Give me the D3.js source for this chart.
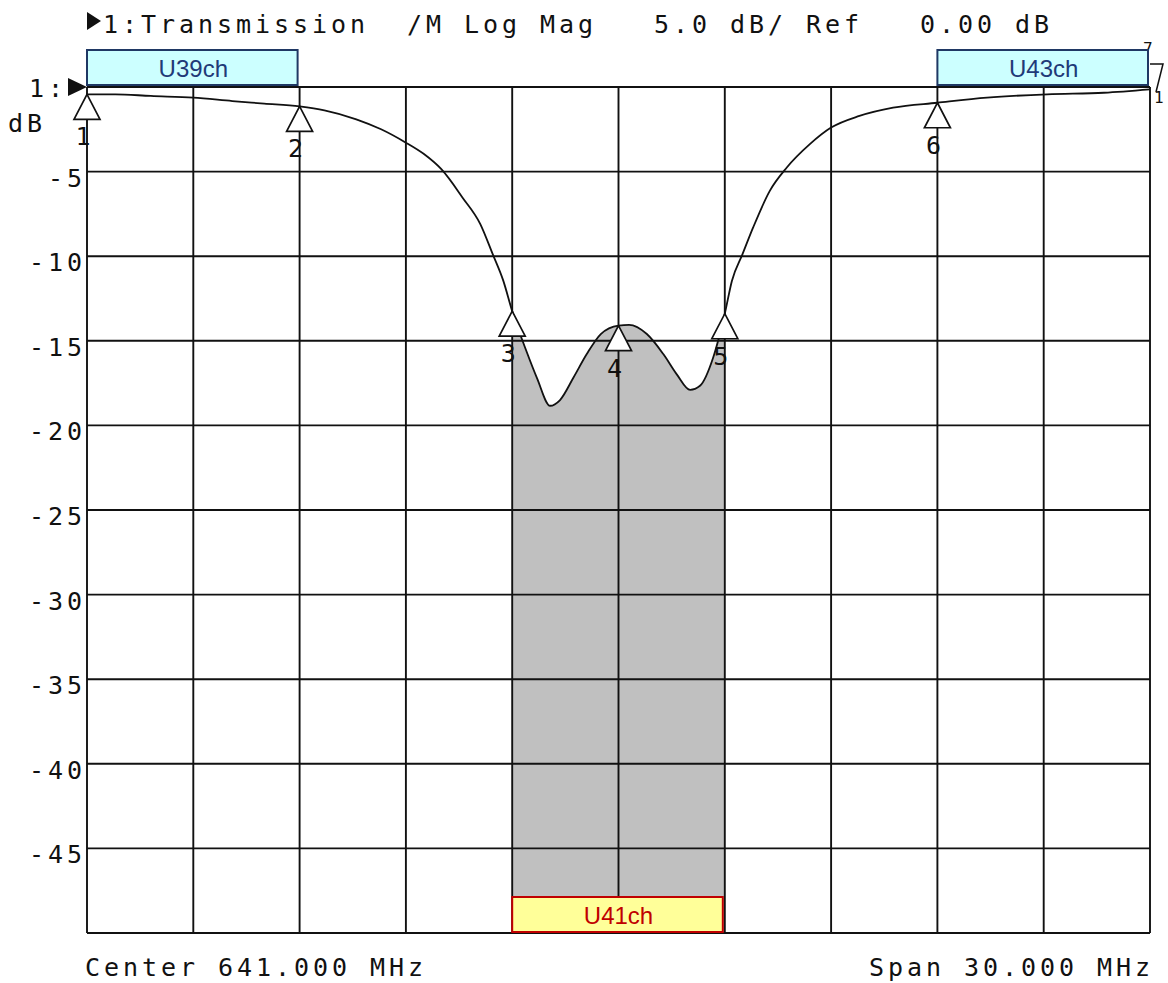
<!DOCTYPE html>
<html>
<head>
<meta charset="utf-8">
<script src="https://cdn.jsdelivr.net/npm/d3@7"></script>
<style>
  body { margin: 0; background: #fff; }
  svg { display: block; }
  .mono { font-family: "DejaVu Sans Mono", monospace; font-size: 25px; letter-spacing: 3.95px; fill: #111; white-space: pre; }
</style>
</head>
<body>
<div id="chart"></div>
<script>
// trace (MHz, dB)
var freqs = [626, 626.8, 627.8, 629, 630.1, 631, 632, 632.7, 633.6, 634.3, 635, 635.5, 636, 636.6, 637.1,
  637.45, 637.75, 638, 638.4, 638.7, 639.07, 639.35, 639.73, 640.1, 640.5, 641, 641.3, 641.8, 642.27,
  642.65, 643.02, 643.3, 643.67, 644, 644.2, 644.5, 644.8, 645.27, 645.75, 646.4, 647, 647.8, 648.75,
  650, 651.4, 653.1, 654.7, 656]
var gains = [-0.43, -0.43, -0.53, -0.63, -0.83, -0.98, -1.15, -1.38, -1.91, -2.5, -3.29, -3.95, -4.86, -6.54, -8.1,
  -9.88, -11.46, -13.25, -15.6, -17.2, -18.84, -18.5, -17.17, -15.8, -14.6, -14.1, -14.06, -14.6, -15.8,
  -17.0, -17.9, -17.66, -16.0, -13.4, -11.46, -9.88, -8.3, -6.14, -4.76, -3.38, -2.4, -1.71, -1.22,
  -0.93, -0.63, -0.43, -0.34, -0.14]

var markerFreqs = [626, 632, 638, 641, 644, 650]
var markerLabels = ["1", "2", "3", "4", "5", "6"]

var yTicks = [0, -5, -10, -15, -20, -25, -30, -35, -40, -45, -50]
var yTickLabels = ["", "-5", "-10", "-15", "-20", "-25", "-30", "-35", "-40", "-45", ""]
var xTicks = [626, 629, 632, 635, 638, 641, 644, 647, 650, 653, 656]

var channels = ["U39ch", "U41ch", "U43ch"]
var chStart = [626, 638, 650]
var chEnd = [632, 644, 656]

var titleText = "1:Transmission  /M Log Mag   5.0 dB/ Ref   0.00 dB"
var centerText = "Center 641.000 MHz"
var spanText = "Span 30.000 MHz"

var W = 1168, H = 983
var svg = d3.select("#chart").append("svg").attr("width", W).attr("height", H)

var x = d3.scaleLinear().domain([626, 656]).range([87, 1150])
var y = d3.scaleLinear().domain([0, -50]).range([87, 933])

var trace = freqs.map((f, i) => ({f: f, g: gains[i]}))

function gainAt(f) {
  var i = d3.bisector(d => d.f).left(trace, f)
  if (i <= 0) return trace[0].g
  if (i >= trace.length) return trace[trace.length - 1].g
  var a = trace[i - 1], b = trace[i]
  return a.g + (b.g - a.g) * (f - a.f) / (b.f - a.f)
}

// shaded pass band (U41ch)
var band = trace.filter(d => d.f >= chStart[1] && d.f <= chEnd[1])
var area = d3.area().x(d => x(d.f)).y0(y(-50)).y1(d => y(d.g)).curve(d3.curveMonotoneX)
svg.append("path").datum(band).attr("d", area).attr("fill", "#c0c0c0")

// grid
svg.append("g").selectAll("line").data(xTicks).enter().append("line")
  .attr("x1", d => x(d)).attr("x2", d => x(d)).attr("y1", y(0)).attr("y2", y(-50))
  .attr("stroke", "#111").attr("stroke-width", 1.9)
svg.append("g").selectAll("line").data(yTicks).enter().append("line")
  .attr("y1", d => y(d)).attr("y2", d => y(d)).attr("x1", x(626)).attr("x2", x(656))
  .attr("stroke", "#111").attr("stroke-width", 1.9)

// y labels
svg.append("g").selectAll("text").data(yTicks).enter().append("text")
  .attr("class", "mono").attr("text-anchor", "end")
  .attr("x", 86).attr("y", d => y(d) + 15)
  .text((d, i) => yTickLabels[i])

// trace
var line = d3.line().x(d => x(d.f)).y(d => y(d.g)).curve(d3.curveMonotoneX)
svg.append("path").datum(trace).attr("d", line)
  .attr("fill", "none").attr("stroke", "#111").attr("stroke-width", 1.8)

// markers
var mk = svg.append("g").selectAll("g").data(markerFreqs).enter().append("g")
  .attr("transform", d => "translate(" + x(d) + "," + y(gainAt(d)) + ")")
mk.append("path").attr("d", "M0,0 L13,25 L-13,25 Z")
  .attr("fill", "#fff").attr("stroke", "#111").attr("stroke-width", 1.7)
mk.append("text").attr("class", "mono").attr("text-anchor", "middle")
  .attr("x", -2).attr("y", 51).text((d, i) => markerLabels[i])

// marker 7 at right edge
svg.append("path").attr("d", "M1150,64 H1163 L1156,92")
  .attr("fill", "none").attr("stroke", "#111").attr("stroke-width", 1.5)
svg.append("text").attr("class", "mono").style("font-size", "16px").style("letter-spacing", "0px")
  .attr("x", 1143).attr("y", 54).text("7")
svg.append("text").attr("class", "mono").style("font-size", "16px").style("letter-spacing", "0px")
  .attr("x", 1154).attr("y", 103).text("1")

// channel boxes
var chFill = ["#ccffff", "#ffff99", "#ccffff"]
var chStroke = ["#1f3864", "#c00000", "#1f3864"]
var chText = ["#1f3a78", "#c00000", "#1f3a78"]
var chTop = [50, 897, 50]
var box = svg.append("g").selectAll("g").data(channels).enter().append("g")
box.append("rect")
  .attr("x", (d, i) => x(chStart[i])).attr("width", (d, i) => x(chEnd[i]) - x(chStart[i]) - 2)
  .attr("y", (d, i) => chTop[i]).attr("height", 35)
  .attr("fill", (d, i) => chFill[i]).attr("stroke", (d, i) => chStroke[i]).attr("stroke-width", 2)
box.append("text")
  .attr("x", (d, i) => (x(chStart[i]) + x(chEnd[i])) / 2).attr("y", (d, i) => chTop[i] + 27)
  .attr("text-anchor", "middle").attr("font-family", "Liberation Sans, Arial, sans-serif")
  .attr("font-size", 24).attr("fill", (d, i) => chText[i])
  .text(d => d)

// header / reference arrows
svg.append("path").attr("d", "M87,12 L101,21 L87,30 Z").attr("fill", "#111")
svg.append("text").attr("class", "mono").attr("x", 103).attr("y", 33).text(titleText)
svg.append("path").attr("d", "M68,78 L87,87 L68,96 Z").attr("fill", "#111")
svg.append("text").attr("class", "mono").attr("x", 29).attr("y", 97).text("1:")
svg.append("text").attr("class", "mono").attr("x", 8).attr("y", 132).text("dB")

// footer
svg.append("text").attr("class", "mono").attr("x", 85).attr("y", 976).text(centerText)
svg.append("text").attr("class", "mono").attr("text-anchor", "end").attr("x", 1154).attr("y", 976).text(spanText)
</script>
</body>
</html>
